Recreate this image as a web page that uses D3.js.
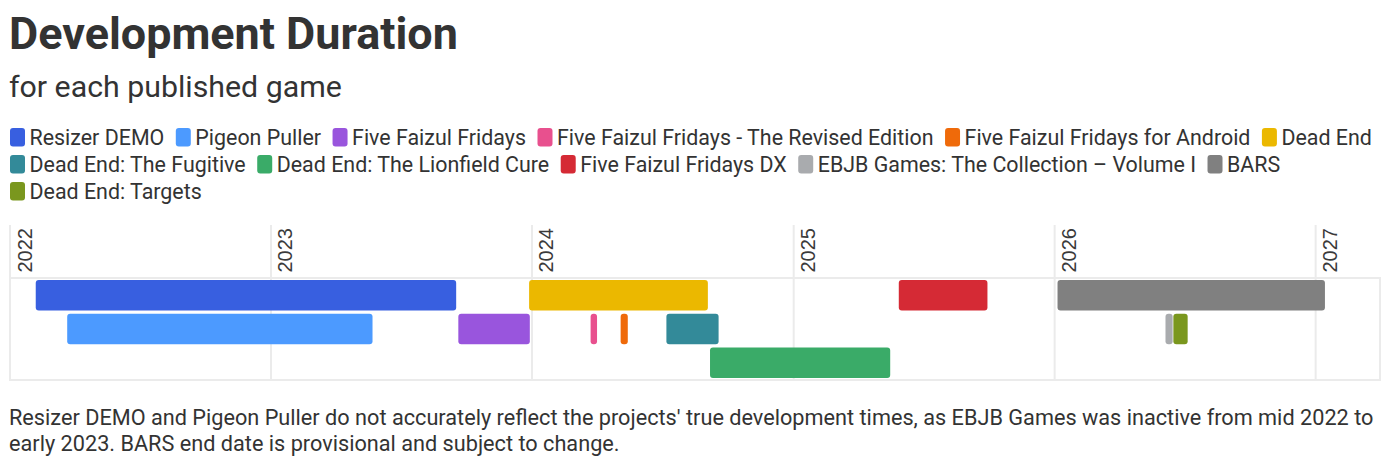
<!DOCTYPE html>
<html><head><meta charset="utf-8">
<script src="https://cdn.jsdelivr.net/npm/d3@7"></script>
<style>html,body{margin:0;padding:0;background:#fff} svg{display:block}</style>
</head><body>
<svg id="chart" width="1392" height="465"></svg>
<script>
// ---- data ----
const games = [
  "Resizer DEMO", "Pigeon Puller", "Five Faizul Fridays",
  "Five Faizul Fridays - The Revised Edition", "Five Faizul Fridays for Android",
  "Dead End", "Dead End: The Fugitive", "Dead End: The Lionfield Cure",
  "Five Faizul Fridays DX", "EBJB Games: The Collection \u2013 Volume I", "BARS",
  "Dead End: Targets"
];
const startDates = [
  "2022-02-06", "2022-03-22", "2023-09-20", "2024-03-23", "2024-05-04",
  "2023-12-28", "2024-07-07", "2024-09-06", "2025-05-28", "2026-06-05",
  "2026-01-05", "2026-06-16"
];
const endDates = [
  "2023-09-17", "2023-05-23", "2023-12-29", "2024-04-01", "2024-05-14",
  "2024-09-03", "2024-09-18", "2025-05-16", "2025-09-29", "2026-06-15",
  "2027-01-14", "2026-07-06"
];
const lanes = [0, 1, 1, 1, 1, 0, 1, 2, 0, 1, 0, 1];
const colors = [
  "#385fe0", "#4c9aff", "#9955dd", "#e8508e", "#ef6a0a", "#ebb800",
  "#338a99", "#3aab68", "#d52a35", "#a9abae", "#808080", "#7a971e"
];
const yearTicks = ["2022", "2023", "2024", "2025", "2026", "2027"];
const domainBounds = ["2022-01-01", "2027-04-01"];
const titleText = "Development Duration";
const subtitleText = "for each published game";
const noteLines = [
  "Resizer DEMO and Pigeon Puller do not accurately reflect the projects' true development times, as EBJB Games was inactive from mid 2022 to",
  "early 2023. BARS end date is provisional and subject to change."
];

// ---- drawing ----
const parse = d3.utcParse("%Y-%m-%d");
const svg = d3.select("#chart");
const FONT = "Roboto, 'Noto Sans', sans-serif";
const TXT = "#333333";

function fit(sel, target) {
  const base = parseFloat(sel.attr("font-size"));
  const w = sel.node().getComputedTextLength();
  sel.attr("font-size", base * target / w);
  return base * target / w;
}

// title & subtitle
const title = svg.append("text").attr("x", 9).attr("y", 49)
  .attr("font-family", FONT).attr("font-weight", 700).attr("font-size", 36)
  .attr("fill", TXT).text(titleText);
fit(title, 449);
const sub = svg.append("text").attr("x", 9).attr("y", 97)
  .attr("font-family", FONT).attr("font-size", 27)
  .attr("fill", TXT).text(subtitleText);
fit(sub, 333);

// legend font size: first legend row spans the same width as the reference
const legendSize = (function () {
  let total = 0;
  games.slice(0, 6).forEach(g => {
    const t = svg.append("text").attr("font-family", FONT).attr("font-size", 20).text(g);
    total += t.node().getComputedTextLength();
    t.remove();
  });
  return 20 * 1188 / total;
})();
const legend = svg.append("g");
let lx = 10, row = 0;
const maxX = 1386;
games.forEach((g, i) => {
  const item = legend.append("g");
  const t = item.append("text").attr("font-family", FONT)
    .attr("font-size", legendSize).attr("fill", TXT).text(g);
  const w = t.node().getComputedTextLength();
  if (lx + 19.5 + w > maxX) { row++; lx = 10; }
  const by = 145 + row * 27;
  item.insert("rect", "text").attr("x", lx).attr("y", by - 17)
    .attr("width", 15).attr("height", 18.5).attr("rx", 3)
    .attr("fill", colors[i]);
  t.attr("x", lx + 19.5).attr("y", by);
  lx += 19.5 + w + 11.5;
});

// scales
const x = d3.scaleUtc().domain(domainBounds.map(parse)).range([10, 1380]);
const y = d3.scaleBand().domain([0, 1, 2]).range([278, 380])
  .paddingInner(0.1).paddingOuter(0.06);

// gridlines + year labels
const grid = svg.append("g");
yearTicks.forEach(yr => {
  const gx = x(parse(yr + "-01-01"));
  grid.append("line").attr("x1", gx).attr("x2", gx)
    .attr("y1", 225).attr("y2", 380)
    .attr("stroke", "#ebebeb").attr("stroke-width", 2);
  grid.append("text")
    .attr("transform", `translate(${gx + 21.5},272.5) rotate(-90)`)
    .attr("font-family", "'Liberation Sans', Arial, sans-serif")
    .attr("font-size", 20).attr("fill", "#3a3a3a").text(yr);
});
// frame
svg.append("rect").attr("x", 10).attr("y", 278)
  .attr("width", 1370).attr("height", 102)
  .attr("fill", "none").attr("stroke", "#ebebeb").attr("stroke-width", 2);

// bars
svg.append("g").selectAll("rect").data(games).join("rect")
  .attr("x", (d, i) => x(parse(startDates[i])))
  .attr("width", (d, i) => x(parse(endDates[i])) - x(parse(startDates[i])))
  .attr("y", (d, i) => y(lanes[i]))
  .attr("height", y.bandwidth())
  .attr("rx", 3)
  .attr("fill", (d, i) => colors[i]);

// note
const n1 = svg.append("text").attr("x", 9).attr("y", 425)
  .attr("font-family", FONT).attr("font-size", 20).attr("fill", TXT)
  .text(noteLines[0]);
const ns = fit(n1, 1365);
svg.append("text").attr("x", 9).attr("y", 451)
  .attr("font-family", FONT).attr("font-size", ns).attr("fill", TXT)
  .text(noteLines[1]);
</script>
</body></html>
